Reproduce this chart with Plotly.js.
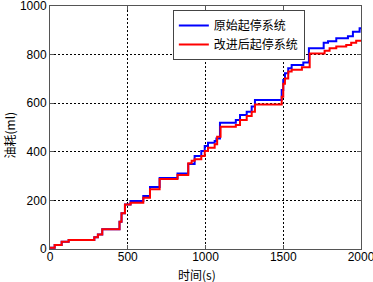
<!DOCTYPE html>
<html>
<head>
<meta charset="utf-8">
<script src="https://cdn.plot.ly/plotly-3.0.1.min.js"></script>
<style>html,body{margin:0;padding:0;background:#fff;}#chart{width:373px;height:282px;}</style>
</head>
<body>
<div id="chart"></div>
<script>
// Time (s) and fuel consumption (ml), stepwise
var timeOriginal = [0, 30, 75, 120, 265, 285, 308, 336, 430, 447, 460, 482, 518, 580, 600, 643, 696, 705, 815, 820, 868, 889, 930, 973, 995, 1016, 1059, 1070, 1093, 1190, 1195, 1222, 1265, 1297, 1318, 1474, 1490, 1500, 1511, 1532, 1554, 1629, 1665, 1755, 1760, 1788, 1841, 1916, 1948, 1991, 2000];
var fuelOriginal = [5, 16, 30, 37, 37, 48, 60, 81, 81, 112, 147, 183, 198, 198, 218, 255, 255, 292, 292, 311, 311, 350, 383, 403, 424, 437, 444, 455, 520, 520, 531, 551, 565, 586, 613, 613, 654, 695, 723, 744, 757, 767, 826, 826, 849, 855, 867, 876, 894, 908, 908];
var timeImproved = [0, 30, 75, 120, 265, 285, 308, 336, 430, 447, 460, 482, 518, 580, 600, 643, 696, 705, 815, 820, 868, 889, 911, 930, 973, 995, 1016, 1059, 1075, 1097, 1190, 1195, 1222, 1265, 1297, 1318, 1474, 1490, 1500, 1511, 1532, 1554, 1620, 1670, 1766, 1798, 1841, 1905, 1937, 1969, 2000];
var fuelImproved = [5, 16, 30, 37, 37, 48, 60, 81, 81, 112, 147, 183, 190, 190, 211, 246, 246, 288, 288, 305, 305, 353, 363, 369, 383, 403, 417, 431, 462, 503, 503, 510, 531, 547, 565, 595, 595, 627, 680, 702, 730, 738, 748, 805, 816, 826, 833, 839, 849, 857, 860];
var seriesNames = ['原始起停系统', '改进后起停系统'];
var xTicks = [0, 500, 1000, 1500, 2000];
var yTicks = [0, 200, 400, 600, 800, 1000];
var xTitle = '时间(s)';
var yTitle = '油耗(ml)';

var traces = [
  {x: timeOriginal, y: fuelOriginal, name: seriesNames[0], type: 'scatter', mode: 'lines',
   line: {color: '#0000ff', width: 2, shape: 'hv'}},
  {x: timeImproved, y: fuelImproved, name: seriesNames[1], type: 'scatter', mode: 'lines',
   line: {color: '#ff0000', width: 2, shape: 'hv'}}
];

var axisCommon = {
  showgrid: true, gridcolor: '#000', griddash: '2px,2px', gridwidth: 1,
  showline: true, linecolor: '#555', linewidth: 1, mirror: 'ticks',
  ticks: 'inside', ticklen: 4, tickcolor: '#555',
  ticklabeloverflow: 'allow',
  zeroline: false, tickfont: {family: 'Liberation Sans, Arial, sans-serif', size: 12, color: '#000'}
};
var titleFont = {family: 'Noto Sans CJK SC, sans-serif', size: 12, color: '#000'};

var layout = {
  width: 373, height: 282,
  margin: {l: 50, r: 12, t: 6, b: 33},
  paper_bgcolor: '#fff', plot_bgcolor: '#fff',
  showlegend: true,
  legend: {x: 0.395, y: 0.984, xanchor: 'left', yanchor: 'top',
    bgcolor: '#fff', bordercolor: '#444', borderwidth: 1,
    font: {family: 'Noto Sans CJK SC, sans-serif', size: 12, color: '#000'},
    tracegroupgap: 0, itemwidth: 30},
  xaxis: Object.assign({}, axisCommon, {
    range: [0, 2000], tickvals: xTicks, ticktext: xTicks.map(String), ticklabelstandoff: -3
  }),
  yaxis: Object.assign({}, axisCommon, {
    range: [0, 1000], tickvals: yTicks, ticktext: yTicks.map(String)
  }),
  annotations: [
    {text: xTitle, xref: 'paper', yref: 'paper', x: 0.473, y: 0, xanchor: 'center', yanchor: 'middle',
     yshift: -25, showarrow: false, font: titleFont},
    {text: yTitle, xref: 'paper', yref: 'paper', x: 0, y: 0.5, xanchor: 'center', yanchor: 'middle',
     xshift: -41, yshift: -8, textangle: -90, showarrow: false, font: titleFont}
  ]
};

Plotly.newPlot('chart', traces, layout, {displayModeBar: false, staticPlot: true});
</script>
</body>
</html>
